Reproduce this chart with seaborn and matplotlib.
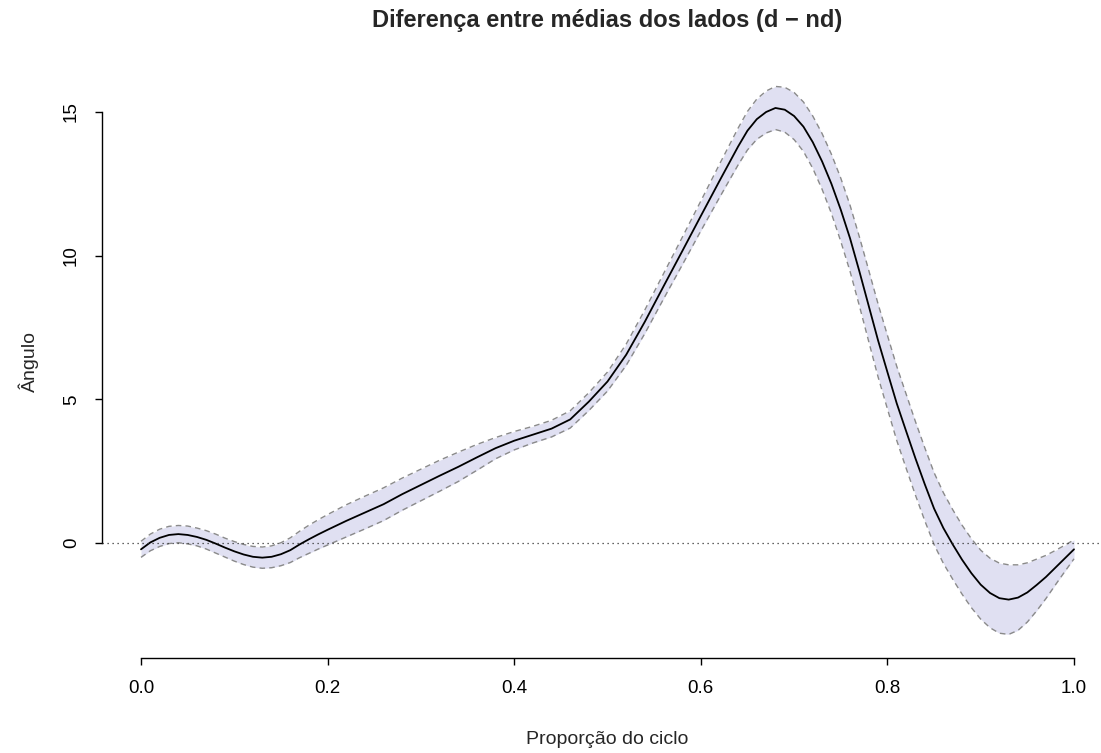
import numpy as np
import pandas as pd
import matplotlib
matplotlib.use("Agg")
import matplotlib.pyplot as plt
import seaborn as sns

# Proportion of the gait cycle
proporcao = [0.000, 0.010, 0.020, 0.030, 0.040, 0.050, 0.060, 0.070, 0.080, 0.090,
             0.100, 0.110, 0.120, 0.130, 0.140, 0.150, 0.160, 0.170, 0.180, 0.190,
             0.200, 0.220, 0.240, 0.260, 0.280, 0.300, 0.320, 0.340, 0.360, 0.380,
             0.400, 0.420, 0.440, 0.460, 0.480, 0.500, 0.520, 0.540, 0.560, 0.580,
             0.600, 0.620, 0.640, 0.650, 0.660, 0.670, 0.680, 0.690, 0.700, 0.710,
             0.720, 0.730, 0.740, 0.750, 0.760, 0.770, 0.780, 0.790, 0.800, 0.810,
             0.820, 0.830, 0.840, 0.850, 0.860, 0.870, 0.880, 0.890, 0.900, 0.910,
             0.920, 0.930, 0.940, 0.950, 0.960, 0.970, 0.980, 0.990, 1.000]

# Mean difference between sides (d - nd), degrees
diferenca_media = [-0.22, 0.02, 0.18, 0.28, 0.31, 0.28, 0.21, 0.11, -0.02, -0.16,
                   -0.29, -0.40, -0.48, -0.51, -0.48, -0.39, -0.25, -0.05, 0.13, 0.30,
                   0.46, 0.77, 1.06, 1.35, 1.70, 2.02, 2.34, 2.65, 2.98, 3.30,
                   3.56, 3.77, 3.98, 4.30, 4.92, 5.62, 6.55, 7.70, 8.93, 10.15,
                   11.38, 12.60, 13.80, 14.35, 14.75, 15.00, 15.14, 15.08, 14.86, 14.49,
                   13.95, 13.28, 12.50, 11.60, 10.60, 9.45, 8.25, 7.05, 5.95, 4.86,
                   3.90, 2.95, 2.05, 1.20, 0.52, -0.05, -0.58, -1.05, -1.45, -1.74,
                   -1.92, -1.97, -1.90, -1.72, -1.46, -1.18, -0.86, -0.54, -0.22]

# Half-width of the confidence band
meia_largura = [0.28, 0.29, 0.30, 0.30, 0.30, 0.31, 0.31, 0.32, 0.33, 0.33,
                0.34, 0.35, 0.36, 0.37, 0.38, 0.40, 0.43, 0.46, 0.49, 0.51,
                0.53, 0.56, 0.57, 0.57, 0.56, 0.55, 0.54, 0.51, 0.45, 0.37,
                0.32, 0.29, 0.29, 0.30, 0.31, 0.33, 0.37, 0.41, 0.44, 0.48,
                0.52, 0.58, 0.64, 0.67, 0.70, 0.73, 0.75, 0.78, 0.82, 0.86,
                0.91, 0.97, 1.03, 1.10, 1.15, 1.20, 1.24, 1.27, 1.28, 1.29,
                1.29, 1.28, 1.27, 1.25, 1.23, 1.21, 1.20, 1.20, 1.20, 1.21,
                1.22, 1.21, 1.14, 1.03, 0.90, 0.75, 0.60, 0.46, 0.33]

x_ticks = [0.0, 0.2, 0.4, 0.6, 0.8, 1.0]
x_tick_labels = ["0.0", "0.2", "0.4", "0.6", "0.8", "1.0"]
y_ticks = [0, 5, 10, 15]
y_tick_labels = ["0", "5", "10", "15"]

titulo = "Diferença entre médias dos lados (d \u2212 nd)"
rotulo_x = "Proporção do ciclo"
rotulo_y = "Ângulo"

df = pd.DataFrame({"x": proporcao, "media": diferenca_media, "meia": meia_largura})
df["inf"] = df["media"] - df["meia"]
df["sup"] = df["media"] + df["meia"]

sns.set_style("white")
plt.rcParams["font.family"] = ["Liberation Sans", "DejaVu Sans"]

W, H = 1101, 753
fig = plt.figure(figsize=(W / 100, H / 100), dpi=100)

# plot box in pixels and the pixel positions of the data reference values
left_px, right_px, top_px, bottom_px = 102, 1101, 64, 658
x0_px, x1_px = 141, 1074
y0_px, y15_px = 543, 112

ax = fig.add_axes([left_px / W, 1 - bottom_px / H,
                   (right_px - left_px) / W, (bottom_px - top_px) / H])
sx = x1_px - x0_px
sy = (y0_px - y15_px) / 15.0
ax.set_xlim((left_px - x0_px) / sx, (right_px - x0_px) / sx)
ax.set_ylim((y0_px - bottom_px) / sy, (y0_px - top_px) / sy)

ax.fill_between(df["x"], df["inf"], df["sup"], color="#E0E0F2", lw=0, zorder=1)
for col in ["inf", "sup"]:
    sns.lineplot(data=df, x="x", y=col, ax=ax, color="#8a8a8a", lw=1.0,
                 linestyle=(0, (4, 3)), legend=False, zorder=2)
sns.lineplot(data=df, x="x", y="media", ax=ax, color="black", lw=1.3,
             legend=False, zorder=3)
ax.axhline(0, color="#333333", lw=0.9, linestyle=(0, (1, 3)), zorder=4)

for s in ["top", "right"]:
    ax.spines[s].set_visible(False)
ax.spines["left"].set_bounds(0, 15)
ax.spines["bottom"].set_bounds(0, 1)
for s in ["left", "bottom"]:
    ax.spines[s].set_color("black")
    ax.spines[s].set_linewidth(1.0)

ax.set_xticks(x_ticks)
ax.set_xticklabels(x_tick_labels)
ax.set_yticks(y_ticks)
ax.set_yticklabels(y_tick_labels, rotation=90, va="center")
ax.tick_params(axis="both", direction="out", length=5, width=1.0, color="black",
               labelsize=13.5, labelcolor="black", bottom=True, left=True)
ax.tick_params(axis="x", pad=11)
ax.tick_params(axis="y", pad=11)
ax.set_xlabel("")
ax.set_ylabel("")

fig.text(607 / W, 1 - 20 / H, titulo, ha="center", va="center",
         fontsize=17, fontweight="bold")
fig.text(607 / W, 1 - 740 / H, rotulo_x, ha="center", va="center", fontsize=14)
fig.text(29 / W, 1 - 361 / H, rotulo_y, ha="center", va="center", fontsize=14,
         rotation=90)

fig.savefig("out.png", dpi=100)
